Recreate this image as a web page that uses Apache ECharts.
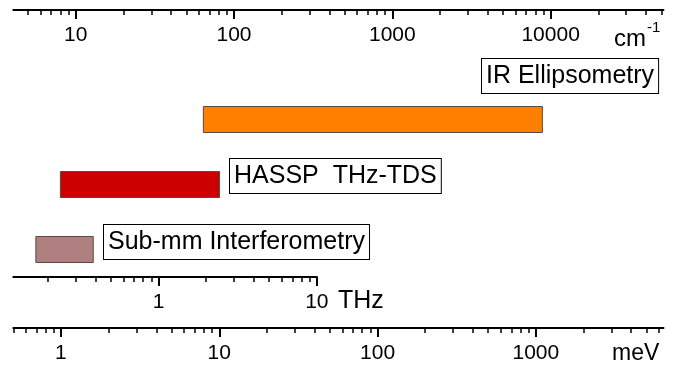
<!DOCTYPE html>
<html>
<head>
<meta charset="utf-8">
<script src="https://cdn.jsdelivr.net/npm/echarts@6/dist/echarts.min.js"></script>
<style>
  html, body { margin: 0; padding: 0; background: #fff; }
  #chart { width: 681px; height: 371px; }
</style>
</head>
<body>
<div id="chart"></div>
<script>
// Spectral coverage of each technique, in wavenumbers (cm^-1)
const techniques = ['IR Ellipsometry', 'HASSP  THz-TDS', 'Sub-mm Interferometry'];
const rangeLow  = [64, 8.0, 5.6];
const rangeHigh = [8870, 81, 12.9];
const barColors = ['#FF8000', '#CC0000', '#B08080'];

// Labelled decades on the three energy scales
const cmLabels  = [10, 100, 1000, 10000];
const thzLabels = [1, 10];
const mevLabels = [1, 10, 100, 1000];

// Unit conversions and the shared energy extent
const CM_PER_MEV  = 8.06554;
const MEV_PER_THZ = 4.13567;
const MEV_MIN = 0.5, MEV_MAX = 6400;
const THZ_MAX = 10;

// Plot geometry
const LEFT = 13.3;          // left end of all scales
const DECADE = 158.3;       // pixels per decade
const FONT = '"Liberation Sans", Arial, sans-serif';

const fullWidth = DECADE * Math.log10(MEV_MAX / MEV_MIN);
const thzMin = MEV_MIN / MEV_PER_THZ;
const thzWidth = DECADE * Math.log10(THZ_MAX / thzMin);

// 1..9 x 10^n tick positions inside [lo, hi]
function decadeTicks(lo, hi) {
  const major = [], minor = [];
  for (let e = Math.floor(Math.log10(lo)); e <= Math.ceil(Math.log10(hi)); e++) {
    for (let m = 1; m <= 9; m++) {
      const v = m * Math.pow(10, e);
      if (v < lo * 0.9999 || v > hi * 1.0001) continue;
      (m === 1 ? major : minor).push(v);
    }
  }
  return { major, minor };
}

// A labelled log scale: one axis for line, major ticks and labels, one for minor ticks
function scaleAxes(gridIndex, lo, hi, position, labels) {
  const t = decadeTicks(lo, hi);
  const inside = position === 'top';
  const base = {
    type: 'log', logBase: 10, gridIndex, min: lo, max: hi, position,
    splitLine: { show: false }, splitArea: { show: false }
  };
  return [
    Object.assign({}, base, {
      axisLine: { show: true, onZero: false, lineStyle: { color: '#000', width: 2 } },
      axisTick: { show: true, inside, length: 9, customValues: t.major,
                  lineStyle: { color: '#000', width: 2 } },
      axisLabel: { show: true, inside, margin: 15, customValues: labels,
                   fontSize: 21, fontFamily: FONT, color: '#000',
                   formatter: v => String(Math.round(v * 1000) / 1000) }
    }),
    Object.assign({}, base, {
      axisLine: { show: false, onZero: false },
      axisTick: { show: true, inside, length: 5, customValues: t.minor,
                  lineStyle: { color: '#000', width: 1.5 } },
      axisLabel: { show: false }
    })
  ];
}

const cmLo = MEV_MIN * CM_PER_MEV, cmHi = MEV_MAX * CM_PER_MEV;

const xAxes = [].concat(
  scaleAxes(0, cmLo, cmHi, 'top', cmLabels),                 // 0,1 wavenumber
  [{ type: 'log', logBase: 10, gridIndex: 1, min: cmLo, max: cmHi, show: false }], // 2 bars
  scaleAxes(2, thzMin, THZ_MAX, 'bottom', thzLabels),       // 3,4 frequency
  scaleAxes(3, MEV_MIN, MEV_MAX, 'bottom', mevLabels)       // 5,6 energy
);

const hiddenY = g => ({ type: 'value', gridIndex: g, min: 0, max: 1, show: false });

function boxLabel(text, left, top) {
  return {
    type: 'text', left, top, z: 10,
    style: {
      text, font: '25px ' + FONT, fill: '#000',
      backgroundColor: '#fff', borderColor: '#000', borderWidth: 1,
      padding: [4, 4, 4, 4], lineHeight: 26
    }
  };
}

function unitText(text, x, y, size) {
  return {
    type: 'text', x, y, z: 10,
    style: { text, font: size + 'px ' + FONT, fill: '#000', align: 'left', verticalAlign: 'middle' }
  };
}

const chart = echarts.init(document.getElementById('chart'), null, { renderer: 'canvas' });
chart.setOption({
  animation: false,
  backgroundColor: '#fff',
  grid: [
    { left: LEFT, width: fullWidth, top: 10, height: 60 },
    { left: LEFT, width: fullWidth, top: 87, height: 195 },
    { left: LEFT, width: thzWidth, top: 227, height: 50 },
    { left: LEFT, width: fullWidth, top: 278, height: 50 }
  ],
  xAxis: xAxes,
  yAxis: [
    hiddenY(0),
    { type: 'category', gridIndex: 1, data: techniques, inverse: true, show: false },
    hiddenY(2),
    hiddenY(3)
  ],
  series: [{
    type: 'custom',
    xAxisIndex: 2, yAxisIndex: 1,
    data: techniques.map((name, i) => [rangeLow[i], rangeHigh[i], i]),
    encode: { x: [0, 1], y: 2 },
    renderItem(params, api) {
      const a = api.coord([api.value(0), api.value(2)]);
      const b = api.coord([api.value(1), api.value(2)]);
      const h = 26;
      return {
        type: 'rect',
        shape: { x: a[0], y: a[1] - h / 2, width: b[0] - a[0], height: h },
        style: { fill: barColors[params.dataIndex], stroke: '#5a4a40', lineWidth: 1 }
      };
    }
  }],
  graphic: [
    boxLabel('IR Ellipsometry', 481, 58),
    boxLabel('HASSP  THz-TDS', 229, 158),
    boxLabel('Sub-mm Interferometry', 103, 224),
    unitText('cm', 614, 39, 24),
    unitText('-1', 647, 28, 15),
    unitText('THz', 338, 301, 25),
    unitText('meV', 612, 354, 23)
  ]
});
</script>
</body>
</html>
